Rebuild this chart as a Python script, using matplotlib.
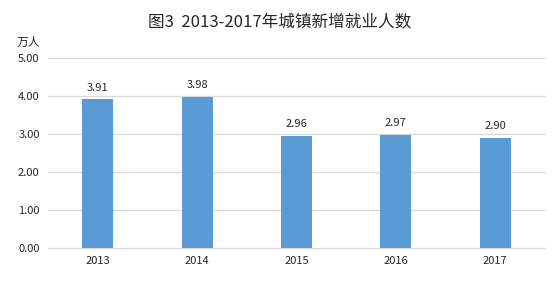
import matplotlib
matplotlib.use("Agg")
import matplotlib.pyplot as plt

plt.rcParams['font.family'] = ['Noto Sans CJK SC', 'DejaVu Sans']

years = ["2013", "2014", "2015", "2016", "2017"]
values = [3.91, 3.98, 2.96, 2.97, 2.90]
yticks = [0, 1, 2, 3, 4, 5]

fig = plt.figure(figsize=(5.6, 2.83), dpi=100)
W, H = 560, 283
left, right, top, bottom = 48, 545, 58, 248
ax = fig.add_axes([left / W, 1 - bottom / H, (right - left) / W, (bottom - top) / H])

x = range(len(years))
ax.bar(x, values, width=0.31, color='#5B9BD5', zorder=3)
for xi, v in zip(x, values):
    ax.text(xi, v + 0.18, f"{v:.2f}", ha='center', va='bottom', fontsize=8, color='#262626')

ax.set_xlim(-0.5, len(years) - 0.5)
ax.set_ylim(0, 5)
ax.set_yticks(yticks)
ax.set_yticklabels([f"{t:.2f}" for t in yticks], fontsize=8, color='#262626')
ax.set_xticks(list(x))
ax.set_xticklabels(years, fontsize=8, color='#262626')
ax.tick_params(length=0, pad=6)
for t in yticks:
    ax.axhline(t, color='#D9D9D9', linewidth=0.9, zorder=0, clip_on=False)
for s in ax.spines.values():
    s.set_visible(False)

fig.text(0.5, 1 - 22 / H, "图3  2013-2017年城镇新增就业人数", ha='center', va='center', fontsize=12, color='#262626')
fig.text(17 / W, 1 - 42 / H, "万人", ha='left', va='center', fontsize=8.5, color='#262626')

fig.savefig("out.png", dpi=100)
